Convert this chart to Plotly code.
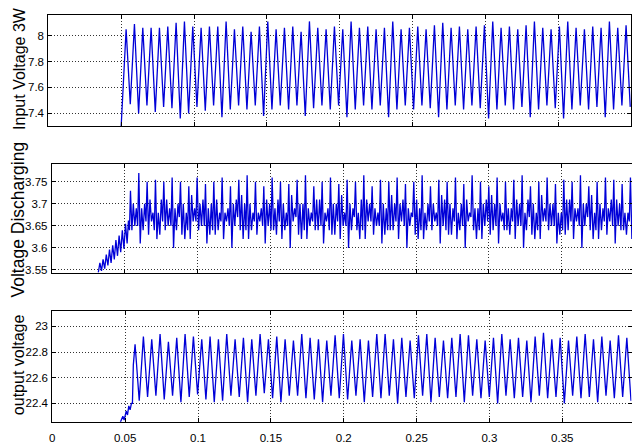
import plotly.graph_objects as go

# ---------------- data ----------------
PERIOD = 0.00572  # oscillation period (s)

x_ticks = [0, 0.05, 0.1, 0.15, 0.2, 0.25, 0.3, 0.35]
x_tick_text = ["0", "0.05", "0.1", "0.15", "0.2", "0.25", "0.3", "0.35"]

# --- panel 1: Input Voltage 3W ---
top_title = "Input Voltage 3W"
top_yticks = [7.4, 7.6, 7.8, 8.0]
top_ytext = ["7.4", "7.6", "7.8", "8"]
top_start = [(0.0500, 7.30)]
top_first_peak_t = 0.0534
top_peaks = [8.05, 8.09, 8.06, 8.06, 8.06, 8.07, 8.10, 8.11, 8.07, 8.06,
             8.07, 8.07, 8.11, 8.05, 8.07, 8.03, 8.07, 8.11, 8.05, 8.06,
             8.07, 8.03, 8.11, 8.06, 8.05, 8.07, 8.05, 8.11, 8.06, 8.07,
             8.05, 8.06, 8.11, 8.05, 8.06, 8.07, 8.05, 8.08, 8.10, 8.06,
             8.07, 8.05, 8.07, 8.08, 8.11, 8.06, 8.07, 8.05, 8.08, 8.11,
             8.06, 8.05, 8.07, 8.11, 8.06, 8.05, 8.07, 8.06, 8.11, 8.06, 8.08]
top_troughs = [7.47, 7.40, 7.46, 7.41, 7.45, 7.44, 7.36, 7.40, 7.45, 7.42,
               7.46, 7.37, 7.43, 7.46, 7.43, 7.46, 7.38, 7.43, 7.46, 7.43,
               7.46, 7.38, 7.44, 7.46, 7.43, 7.46, 7.37, 7.43, 7.46, 7.43,
               7.46, 7.37, 7.43, 7.46, 7.43, 7.46, 7.44, 7.37, 7.43, 7.46,
               7.43, 7.46, 7.44, 7.36, 7.43, 7.46, 7.43, 7.45, 7.37, 7.43,
               7.46, 7.44, 7.36, 7.43, 7.46, 7.43, 7.45, 7.37, 7.43, 7.46, 7.45]

# --- panel 2: Voltage Discharging ---
mid_title = "Voltage Discharging"
mid_yticks = [3.55, 3.6, 3.65, 3.7, 3.75]
mid_ytext = ["3.55", "3.6", "3.65", "3.7", "3.75"]
mid_start = [(0.0319, 3.544), (0.0330, 3.566), (0.0341, 3.548), (0.0352, 3.574),
             (0.0363, 3.553), (0.0374, 3.585), (0.0385, 3.560), (0.0396, 3.596),
             (0.0407, 3.566), (0.0418, 3.606), (0.0429, 3.574), (0.0440, 3.618),
             (0.0451, 3.582), (0.0462, 3.628), (0.0473, 3.590), (0.0484, 3.640),
             (0.0495, 3.598), (0.0506, 3.655), (0.0517, 3.610), (0.0526, 3.662),
             (0.0533, 3.640)]
mid_first_spike_t = 0.0540
mid_spike = [3.73, 3.77, 3.75, 3.755, 3.75, 3.76, 3.75, 3.74, 3.76, 3.745,
             3.75, 3.76, 3.74, 3.755, 3.765, 3.75, 3.74, 3.76, 3.75, 3.745,
             3.755, 3.765, 3.74, 3.75, 3.76, 3.745, 3.755, 3.75, 3.765, 3.74,
             3.755, 3.75, 3.76, 3.745, 3.75, 3.765, 3.74, 3.755, 3.75, 3.76,
             3.745, 3.765, 3.75, 3.74, 3.76, 3.75, 3.755, 3.765, 3.74, 3.75,
             3.76, 3.745, 3.755, 3.75, 3.765, 3.74, 3.75, 3.76, 3.755, 3.745, 3.76]
mid_low = [3.64, 3.61, 3.63, 3.62, 3.64, 3.60, 3.63, 3.62, 3.64, 3.61,
           3.63, 3.62, 3.60, 3.64, 3.62, 3.63, 3.61, 3.64, 3.62, 3.60,
           3.63, 3.62, 3.64, 3.61, 3.63, 3.62, 3.60, 3.64, 3.62, 3.63,
           3.61, 3.64, 3.62, 3.60, 3.63, 3.62, 3.64, 3.61, 3.63, 3.62,
           3.60, 3.64, 3.62, 3.63, 3.61, 3.64, 3.62, 3.60, 3.63, 3.62,
           3.64, 3.61, 3.63, 3.62, 3.60, 3.64, 3.62, 3.63, 3.61, 3.64, 3.62]
mid_bump = [3.70, 3.69, 3.71, 3.68, 3.71, 3.69, 3.70, 3.72, 3.70, 3.69,
            3.71, 3.68, 3.70, 3.72, 3.70, 3.68, 3.71, 3.69, 3.70, 3.72,
            3.70, 3.69, 3.71, 3.68, 3.70, 3.72, 3.70, 3.68, 3.71, 3.69,
            3.70, 3.72, 3.70, 3.69, 3.71, 3.68, 3.70, 3.72, 3.70, 3.68,
            3.71, 3.69, 3.70, 3.72, 3.70, 3.69, 3.71, 3.68, 3.70, 3.72,
            3.70, 3.68, 3.71, 3.69, 3.70, 3.72, 3.70, 3.69, 3.71, 3.68, 3.70]
mid_dip = [3.65, 3.64, 3.66, 3.63, 3.65, 3.64, 3.62, 3.66, 3.65, 3.63,
           3.64, 3.66, 3.65, 3.62, 3.64, 3.66, 3.65, 3.63, 3.64, 3.66,
           3.62, 3.65, 3.64, 3.66, 3.63, 3.65, 3.64, 3.62, 3.66, 3.65,
           3.63, 3.64, 3.66, 3.65, 3.62, 3.64, 3.66, 3.65, 3.63, 3.64,
           3.66, 3.62, 3.65, 3.64, 3.66, 3.63, 3.65, 3.64, 3.62, 3.66,
           3.65, 3.63, 3.64, 3.66, 3.65, 3.62, 3.64, 3.66, 3.65, 3.63, 3.64]
mid_bump2 = [3.69, 3.70, 3.68, 3.71, 3.69, 3.70, 3.68, 3.69, 3.71, 3.70,
             3.68, 3.69, 3.71, 3.70, 3.68, 3.69, 3.70, 3.71, 3.68, 3.69,
             3.70, 3.68, 3.71, 3.69, 3.70, 3.68, 3.69, 3.71, 3.70, 3.68,
             3.69, 3.70, 3.71, 3.68, 3.69, 3.70, 3.68, 3.71, 3.69, 3.70,
             3.68, 3.69, 3.71, 3.70, 3.68, 3.69, 3.70, 3.71, 3.68, 3.69,
             3.70, 3.68, 3.71, 3.69, 3.70, 3.68, 3.69, 3.71, 3.70, 3.68, 3.69]
mid_pre = [3.65, 3.66, 3.64, 3.66, 3.65, 3.67, 3.64, 3.66, 3.65, 3.64,
           3.66, 3.65, 3.67, 3.64, 3.66, 3.65, 3.64, 3.66, 3.65, 3.67,
           3.64, 3.66, 3.65, 3.64, 3.66, 3.65, 3.67, 3.64, 3.66, 3.65,
           3.64, 3.66, 3.65, 3.67, 3.64, 3.66, 3.65, 3.64, 3.66, 3.65,
           3.67, 3.64, 3.66, 3.65, 3.64, 3.66, 3.65, 3.67, 3.64, 3.66,
           3.65, 3.64, 3.66, 3.65, 3.67, 3.64, 3.66, 3.65, 3.64, 3.66, 3.65]

# --- panel 3: output voltage ---
bot_title = "output voltage"
bot_yticks = [22.4, 22.6, 22.8, 23.0]
bot_ytext = ["22.4", "22.6", "22.8", "23"]
bot_start = [(0.0466, 22.25), (0.0484, 22.30), (0.0493, 22.27), (0.0507, 22.34),
             (0.0516, 22.31), (0.0525, 22.38), (0.0534, 22.35), (0.0543, 22.40),
             (0.0550, 22.40), (0.0556, 22.70)]
bot_first_peak_t = 0.0568
bot_peaks = [22.86, 22.92, 22.90, 22.94, 22.88, 22.91, 22.94, 22.92, 22.90, 22.92,
             22.90, 22.94, 22.90, 22.91, 22.90, 22.94, 22.90, 22.92, 22.90, 22.89,
             22.94, 22.91, 22.90, 22.89, 22.93, 22.94, 22.89, 22.90, 22.89, 22.94,
             22.94, 22.90, 22.91, 22.89, 22.93, 22.94, 22.91, 22.89, 22.91, 22.94,
             22.93, 22.90, 22.89, 22.91, 22.94, 22.90, 22.91, 22.89, 22.92, 22.95,
             22.90, 22.91, 22.89, 22.92, 22.94, 22.90, 22.92, 22.89, 22.93, 22.91]
bot_troughs = [22.42, 22.45, 22.46, 22.43, 22.46, 22.41, 22.45, 22.47, 22.43, 22.41,
               22.42, 22.46, 22.45, 22.41, 22.46, 22.48, 22.44, 22.41, 22.46, 22.46,
               22.44, 22.43, 22.41, 22.46, 22.44, 22.43, 22.46, 22.41, 22.45, 22.44,
               22.46, 22.40, 22.45, 22.44, 22.46, 22.41, 22.45, 22.44, 22.45, 22.41,
               22.46, 22.44, 22.45, 22.40, 22.46, 22.44, 22.45, 22.41, 22.46, 22.44,
               22.45, 22.40, 22.46, 22.44, 22.45, 22.41, 22.46, 22.44, 22.45, 22.42]


# ---------------- build series ----------------
def build(start, t0, lists, fracs):
    ts = [p[0] for p in start]
    vs = [p[1] for p in start]
    for k in range(len(lists[0])):
        for lst, f in zip(lists, fracs):
            ts.append(t0 + (k + f) * PERIOD)
            vs.append(lst[k])
    return ts, vs


top_t, top_v = build(top_start, top_first_peak_t, [top_peaks, top_troughs], [0.0, 0.5])
mid_t, mid_v = build(mid_start, mid_first_spike_t,
                     [mid_spike, mid_low, mid_bump, mid_dip, mid_bump2, mid_pre],
                     [0.0, 0.17, 0.34, 0.52, 0.70, 0.86])
bot_t, bot_v = build(bot_start, bot_first_peak_t, [bot_peaks, bot_troughs], [0.0, 0.5])

# the page places the figure with a small offset; figure sized to fit the window
OFFX, OFFY = 10.5, 8
W, H = 629, 436
LINE = dict(color="#0000d8", width=1.3)
TICKFONT = dict(family="Liberation Sans Narrow, Arial Narrow, Liberation Sans, Arial",
                size=11.5, color="black")
TITLE_FAMILY = "Liberation Sans, Arial"

fig = go.Figure()
fig.add_trace(go.Scatter(x=top_t, y=top_v, mode="lines", line=LINE, xaxis="x", yaxis="y"))
fig.add_trace(go.Scatter(x=mid_t, y=mid_v, mode="lines", line=LINE, xaxis="x2", yaxis="y2"))
fig.add_trace(go.Scatter(x=bot_t, y=bot_v, mode="lines", line=LINE, xaxis="x3", yaxis="y3"))


def axis(**kw):
    d = dict(showline=True, linecolor="black", linewidth=1, mirror="allticks",
             ticks="inside", ticklen=4, tickcolor="black", tickwidth=1,
             showgrid=True, gridcolor="#333333", gridwidth=1, griddash="1px,2px",
             zeroline=False, tickfont=TICKFONT, fixedrange=True)
    d.update(kw)
    return d


def dx(a, b):  # screen px -> paper fraction
    return [(a - OFFX) / W, (b - OFFX) / W]


def dy(top, bottom):
    return [(H - (bottom - OFFY)) / H, (H - (top - OFFY)) / H]


def ann(text, sx, sy, size):
    return dict(text=text, x=(sx - OFFX) / W, y=(H - (sy - OFFY)) / H,
                xref="paper", yref="paper", textangle=-90, showarrow=False,
                font=dict(family=TITLE_FAMILY, size=size, color="black"),
                xanchor="center", yanchor="middle")


fig.update_layout(
    width=W, height=H, showlegend=False,
    paper_bgcolor="white", plot_bgcolor="white",
    margin=dict(l=0, r=0, t=0, b=0),
    xaxis=axis(domain=dx(48, 633.5), range=[0, 0.4], anchor="y",
               tickvals=x_ticks, showticklabels=False),
    yaxis=axis(domain=dy(15, 127), range=[7.303, 8.16], anchor="x",
               tickvals=top_yticks, ticktext=top_ytext, ticklabelstandoff=1),
    xaxis2=axis(domain=dx(51.5, 636), range=[0, 0.3993], anchor="y2",
                tickvals=x_ticks, showticklabels=False),
    yaxis2=axis(domain=dy(165.7, 275), range=[3.544, 3.79], anchor="x2",
                tickvals=mid_yticks, ticktext=mid_ytext, ticklabelstandoff=1),
    xaxis3=axis(domain=dx(52, 634), range=[0, 0.3975], anchor="y3",
                tickvals=x_ticks, ticktext=x_tick_text, ticklabelstandoff=5),
    yaxis3=axis(domain=dy(314, 425.7), range=[22.256, 23.118], anchor="x3",
                tickvals=bot_yticks, ticktext=bot_ytext, ticklabelstandoff=1),
    annotations=[
        ann(top_title, 19, 69, 16),
        ann(mid_title, 18, 221, 17.5),
        ann(bot_title, 18, 368, 16),
    ],
)

fig.write_html("out.html")
